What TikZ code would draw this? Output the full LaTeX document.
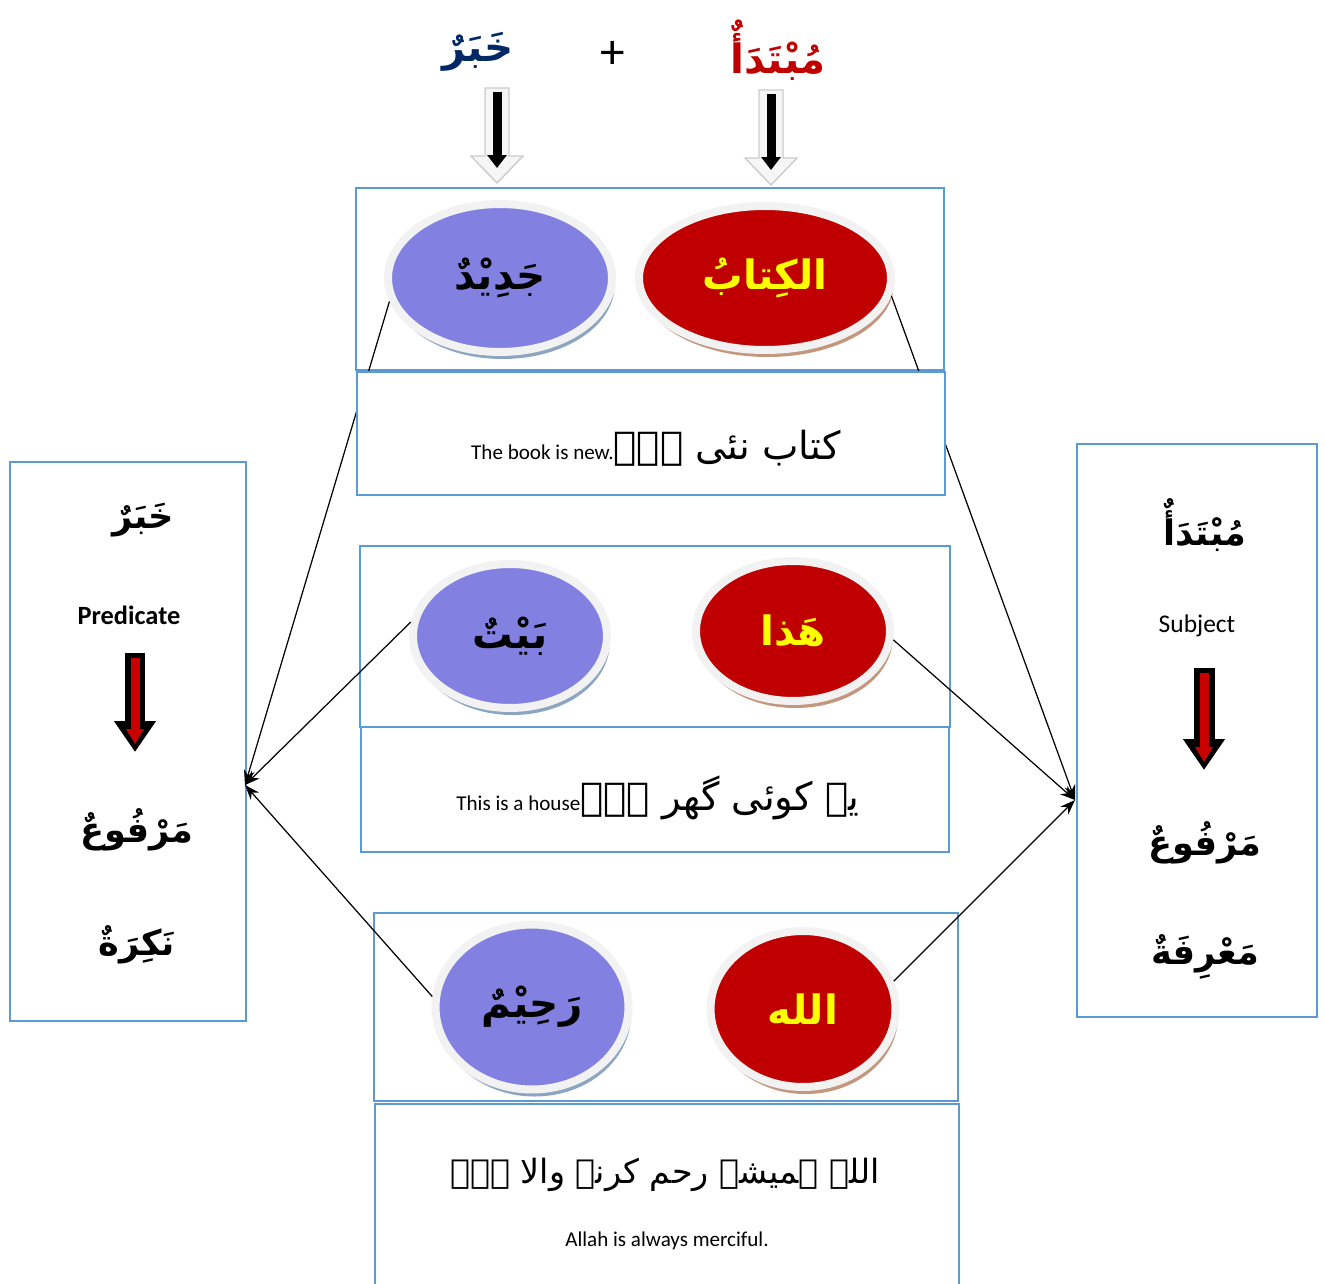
\documentclass[tikz,border=0pt]{standalone}
\usepackage{fontspec}
\setmainfont{Carlito}
\newfontfamily\arabicfont[Script=Arabic]{DejaVu Sans}
\TeXXeTstate=1
\usetikzlibrary{shapes.geometric, arrows.meta, positioning, shadows}

\definecolor{panelblue}{RGB}{91,155,213}
\definecolor{bubbleblue}{RGB}{130,128,224}
\definecolor{bubblered}{RGB}{192,0,0}
\definecolor{bubbleyellow}{RGB}{255,255,0}
\definecolor{ringgray}{RGB}{242,242,242}
\definecolor{shadowblue}{RGB}{140,165,195}
\definecolor{shadowred}{RGB}{196,150,125}
\definecolor{khabarnavy}{RGB}{0,40,100}
\definecolor{arrowred}{RGB}{200,0,0}

\begin{document}
\begin{tikzpicture}[
		x=0.02cm, y=-0.02cm,
		panel/.style = {rectangle, draw=panelblue, line width=1.1pt, inner sep=0pt},
		captionbox/.style = {panel, fill=white},
		bubble/.style = {ellipse, draw=ringgray, line width=0.16cm, inner sep=0pt,
				font=\arabicfont\bfseries\fontsize{23}{27}\selectfont},
		ismbubble/.style = {bubble, fill=bubbleblue, text=black,
				drop shadow={shadow xshift=1.5pt, shadow yshift=-4pt, fill=shadowblue, opacity=1}},
		mubtadabubble/.style = {bubble, fill=bubblered, text=bubbleyellow,
				drop shadow={shadow xshift=1.5pt, shadow yshift=-4pt, fill=shadowred, opacity=1}},
		arabicword/.style = {font=\arabicfont\bfseries\fontsize{23}{27}\selectfont},
		sideword/.style = {font=\arabicfont\bfseries\fontsize{20}{24}\selectfont},
		urdu/.style = {font=\arabicfont\fontsize{19}{23}\selectfont},
		english/.style = {font=\fontsize{12}{14}\selectfont},
		line/.style = {draw, line width=0.7pt, -{Stealth[length=0.3cm, width=0.22cm]}},
		hollow/.style = {fill=gray!7, draw=gray!40, line width=0.8pt},
		blackarrow/.style = {draw, line width=0.18cm, -{Triangle[length=0.26cm, width=0.38cm]}},
		fatarrow/.style = {draw, line width=0.42cm, -{Triangle[length=0.62cm, width=0.8cm]}},
		redcore/.style = {draw=arrowred, line width=0.18cm, -{Triangle[length=0.3cm, width=0.34cm]}},
	]
	\useasboundingbox (0,0) rectangle (1325,1284);

	% Top labels
	\node [arabicword, text=khabarnavy] (khabartop) at (478,52) {\beginR خَبَرٌ\endR};
	\node [font=\fontsize{28}{30}\selectfont] (plus) at (613,55) {+};
	\node [arabicword, text=bubblered] (mubtadatop) at (778,50) {\beginR مُبْتَدَأٌ\endR};

	% Hollow arrows under the labels
	\foreach \ax/\ay in {497/88, 771/90} {
		\path [hollow] (\ax-12,\ay) -- (\ax+12,\ay) -- (\ax+12,\ay+68) -- (\ax+26,\ay+68)
			-- (\ax,\ay+95) -- (\ax-26,\ay+68) -- (\ax-12,\ay+68) -- cycle;
		\path [blackarrow] (\ax,\ay+4) -- (\ax,\ay+80);
	}

	% Example panels
	\node [panel, minimum width=11.76cm, minimum height=3.64cm] (boxA) at (650,279) {};
	\node [panel, minimum width=11.8cm, minimum height=3.62cm] (boxB) at (655,636.5) {};
	\node [panel, minimum width=11.68cm, minimum height=3.76cm] (boxC) at (666,1007) {};

	% Bubbles
	\node [ismbubble, minimum width=4.48cm, minimum height=2.96cm] (jadid) at (500,278) {\beginR جَدِيْدٌ\endR};
	\node [mubtadabubble, minimum width=5.04cm, minimum height=2.88cm] (kitab) at (765,278) {\beginR الكِتابُ\endR};
	\node [ismbubble, minimum width=3.88cm, minimum height=2.88cm] (bayt) at (510,636) {\beginR بَيْتٌ\endR};
	\node [mubtadabubble, minimum width=3.88cm, minimum height=2.8cm] (hadha) at (793,631) {\beginR هَذا\endR};
	\node [ismbubble, minimum width=3.86cm, minimum height=3.3cm] (rahim) at (532,1007) {\beginR رَحِيْمٌ\endR};
	\node [mubtadabubble, minimum width=3.7cm, minimum height=3.12cm] (allah) at (803,1009) {\beginR الله\endR};

	% Predicate panel
	\node [panel, minimum width=4.72cm, minimum height=11.18cm] (predbox) at (128,741.5) {};
	\node [sideword] (predkhabar) at (143,520) {\beginR خَبَرٌ\endR};
	\node [font=\bfseries\fontsize{15}{17}\selectfont] (pred) at (129,615) {Predicate};
	\node [sideword] (predraf) at (137,830) {\beginR مَرْفُوعٌ\endR};
	\node [sideword] (prednakira) at (137,945) {\beginR نَكِرَةٌ\endR};
	\coordinate (predtop) at (135,653);
	\coordinate (predtip) at (135,752);
	\path [fatarrow] (predtop) -- (predtip);
	\path [redcore] ([yshift=-0.1cm]predtop) -- ([yshift=0.16cm]predtip);

	% Subject panel
	\node [panel, minimum width=4.8cm, minimum height=11.46cm] (subjbox) at (1197,730.5) {};
	\node [sideword] (subjmubtada) at (1205,525) {\beginR مُبْتَدَأٌ\endR};
	\node [font=\fontsize{14.5}{17}\selectfont] (subj) at (1197,626) {Subject};
	\node [sideword] (subjraf) at (1205,843) {\beginR مَرْفُوعٌ\endR};
	\node [sideword] (subjmarifa) at (1205,957) {\beginR مَعْرِفَةٌ\endR};
	\coordinate (subjtop) at (1204,668);
	\coordinate (subjtip) at (1204,770);
	\path [fatarrow] (subjtop) -- (subjtip);
	\path [redcore] ([yshift=-0.1cm]subjtop) -- ([yshift=0.16cm]subjtip);

	% Draw arrows
	\coordinate (predin) at (245,785);
	\coordinate (subjin) at (1075,800);
	\path [line] (jadid.192) -- (predin);
	\path [line] (bayt.172) -- (predin);
	\path [line] (rahim.174) -- (predin);
	\path [line] (kitab.-8) -- (subjin);
	\path [line] (hadha.-5) -- (subjin);
	\path [line] (allah.17) -- (subjin);

	% Caption panels
	\node [captionbox, minimum width=11.76cm, minimum height=2.46cm] (capA) at (651,433.5) {};
	\node [captionbox, minimum width=11.76cm, minimum height=2.5cm] (capB) at (655,789.5) {};
	\node [captionbox, minimum width=11.68cm, minimum height=3.76cm] (capC) at (667,1198) {};

	\node (senA) at (656,448) {{\fontsize{12}{14}\selectfont The book is new.}{\arabicfont\fontsize{22}{26}\selectfont\beginR کتاب نئی ہے۔\endR}};
	\node (senB) at (658,798) {{\fontsize{12}{14}\selectfont This is a house}{\arabicfont\fontsize{22}{26}\selectfont\beginR یہ کوئی گھر ہے۔\endR}};
	\node [urdu] (senC) at (665,1175) {\beginR اللہ ہمیشہ رحم کرنے والا ہے۔\endR};
	\node [english] (engC) at (667,1241) {Allah is always merciful.};
\end{tikzpicture}
\end{document}
